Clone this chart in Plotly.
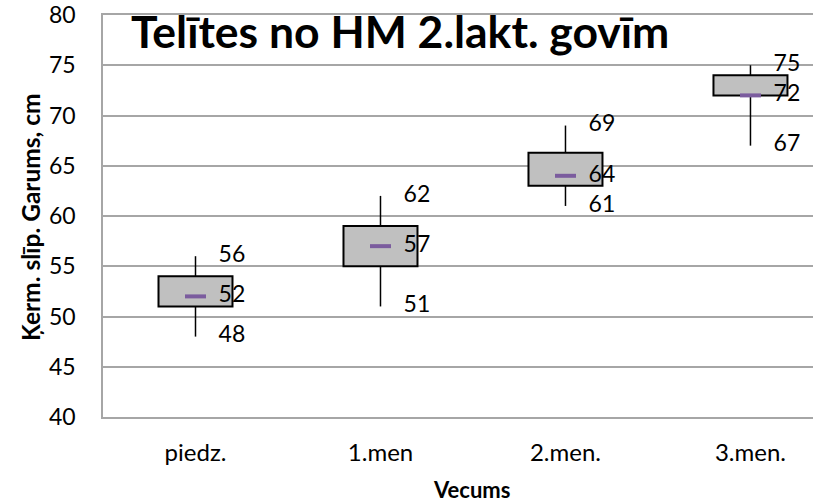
import plotly.graph_objects as go

categories = ["piedz.", "1.men", "2.men.", "3.men."]
max_vals = [56, 62, 69, 75]
box_high = [54, 59, 66.3, 74]
median_vals = [52, 57, 64, 72]
box_low = [51, 55, 63, 72]
min_vals = [48, 51, 61, 67]

x_idx = list(range(len(categories)))
FONT = "Lato"

fig = go.Figure()

# whiskers (two segments so box covers nothing)
wx, wy = [], []
for i in x_idx:
    wx += [i, i, None, i, i, None]
    wy += [box_high[i], max_vals[i], None, min_vals[i], box_low[i], None]

fig.add_trace(go.Bar(
    x=x_idx, y=[h - l for h, l in zip(box_high, box_low)], base=box_low,
    width=0.4, marker=dict(color="#c0c0c0", line=dict(color="black", width=2)),
    hoverinfo="skip", showlegend=False,
))
fig.add_trace(go.Scatter(
    x=wx, y=wy, mode="lines", line=dict(color="black", width=1.5),
    hoverinfo="skip", showlegend=False,
))
fig.add_trace(go.Scatter(
    x=x_idx, y=median_vals, mode="markers",
    marker=dict(symbol="line-ew", size=15, line=dict(color="#7b5c9e", width=4)),
    hoverinfo="skip", showlegend=False,
))

lab_x = [i + 0.125 for i in x_idx]
for vals in (max_vals, median_vals, min_vals):
    fig.add_trace(go.Scatter(
        x=lab_x, y=vals, mode="text", text=[str(v) for v in vals],
        textposition="middle right",
        textfont=dict(family=FONT, size=23, color="black"),
        hoverinfo="skip", showlegend=False, cliponaxis=False,
    ))

PL, PT, PB, PW = 103, 15, 417, 710
PH = PB - PT

fig.update_layout(
    width=813, height=503,
    margin=dict(l=PL, r=0, t=PT, b=503 - PB, autoexpand=False),
    paper_bgcolor="white", plot_bgcolor="white",
    font=dict(family=FONT, color="black"),
    barmode="overlay",
    annotations=[
        dict(text="<b>Telītes no HM 2.lakt. govīm</b>", xref="paper", yref="paper",
             x=(400 - PL) / PW, y=(PB - 30) / PH, xanchor="center", yanchor="middle",
             showarrow=False, font=dict(family=FONT, size=44.5, color="black")),
        dict(text="<b>Vecums</b>", xref="paper", yref="paper",
             x=(471 - PL) / PW, y=(PB - 489) / PH, xanchor="center", yanchor="middle",
             showarrow=False, font=dict(family=FONT, size=22, color="black")),
        dict(text="<b>Ķerm. slīp. Garums, cm</b>", xref="paper", yref="paper",
             x=(30 - PL) / PW, y=(PB - 217) / PH, xanchor="center", yanchor="middle",
             textangle=-90, showarrow=False, font=dict(family=FONT, size=24.5, color="black")),
    ],
)

fig.update_xaxes(
    range=[-0.5, 3.338], tickvals=x_idx, ticktext=categories, automargin=False,
    showgrid=False, zeroline=False, showline=True, mirror=True,
    linecolor="#a6a6a6", linewidth=1.5,
    ticks="", ticklabelstandoff=13, tickfont=dict(family=FONT, size=24, color="black"),
)
fig.update_yaxes(
    range=[40, 80], dtick=5, showgrid=True, gridcolor="#a6a6a6", gridwidth=1.5,
    zeroline=False, showline=True, linecolor="#a6a6a6", linewidth=1.5, automargin=False,
    ticks="", ticklabelstandoff=21, tickfont=dict(family=FONT, size=23, color="black"),
)

fig.write_html("out.html", config={"displayModeBar": False},
               post_script="document.body.style.margin='0';")
